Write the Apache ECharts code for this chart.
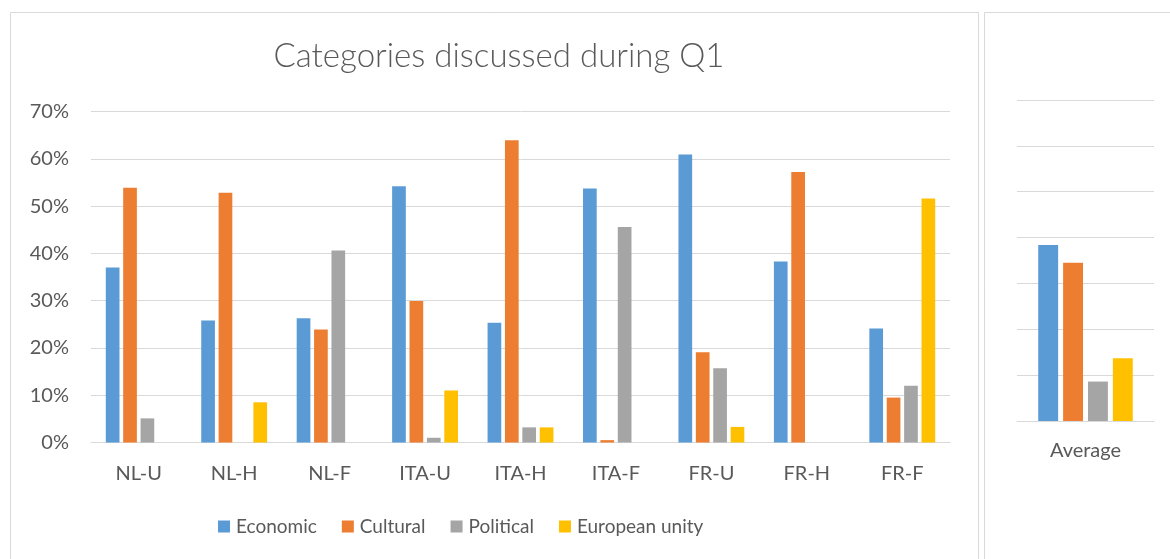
<!DOCTYPE html>
<html>
<head>
<meta charset="utf-8">
<style>
  html, body { margin: 0; padding: 0; background: #ffffff; }
  #chart { width: 1170px; height: 559px; }
</style>
<script src="https://cdn.jsdelivr.net/npm/echarts@6/dist/echarts.min.js"></script>
</head>
<body>
<div id="chart"></div>
<script>
// Share of each discussion category per group (percent)
const categories = ['NL-U', 'NL-H', 'NL-F', 'ITA-U', 'ITA-H', 'ITA-F', 'FR-U', 'FR-H', 'FR-F'];
const seriesNames = ['Economic', 'Cultural', 'Political', 'European unity'];
const economic = [37.0, 25.8, 26.3, 54.2, 25.3, 53.7, 60.9, 38.3, 24.1];
const cultural = [53.9, 52.8, 23.9, 29.9, 63.9, 0.5, 19.1, 57.2, 9.5];
const political = [5.1, 0, 40.6, 1.0, 3.2, 45.6, 15.7, 0, 12.0];
const europeanUnity = [0, 8.5, 0, 11.0, 3.2, 0, 3.3, 0, 51.6];

// Side panel: one bar per category
const averageLabel = ['Average'];
const averages = [38.4, 34.5, 8.6, 13.7];

const colors = ['#5B9BD5', '#ED7D31', '#A5A5A5', '#FFC000'];
const textColor = '#595959';
const gridColor = '#D9D9D9';
const FONT = 'Lato';

const mainValues = [economic, cultural, political, europeanUnity];

const series = [];
mainValues.forEach((vals, i) => {
  series.push({
    name: seriesNames[i],
    type: 'bar',
    xAxisIndex: 0,
    yAxisIndex: 0,
    data: vals,
    itemStyle: { color: colors[i] },
    barGap: '27%',
    barCategoryGap: '31%'
  });
});
averages.forEach((v, i) => {
  series.push({
    name: seriesNames[i],
    type: 'bar',
    xAxisIndex: 1,
    yAxisIndex: 1,
    data: [v],
    itemStyle: { color: colors[i] },
    barGap: '25%',
    barCategoryGap: '31%'
  });
});

const chart = echarts.init(document.getElementById('chart'), null, { renderer: 'canvas' });
chart.setOption({
  animation: false,
  backgroundColor: '#ffffff',
  textStyle: { fontFamily: FONT, color: textColor },
  graphic: [
    { type: 'rect', shape: { x: 10.5, y: 12.5, width: 968, height: 560 },
      style: { fill: 'none', stroke: gridColor, lineWidth: 1 } },
    { type: 'rect', shape: { x: 984.5, y: 12.5, width: 200, height: 560 },
      style: { fill: 'none', stroke: gridColor, lineWidth: 1 } }
  ],
  title: {
    text: 'Categories discussed during Q1',
    left: 494,
    textAlign: 'center',
    top: 35,
    textStyle: { fontFamily: FONT, fontWeight: 300, fontSize: 33, color: textColor }
  },
  legend: {
    data: seriesNames,
    left: 213,
    top: 512,
    itemWidth: 12,
    itemHeight: 12,
    itemGap: 25,
    icon: 'rect',
    textStyle: { fontFamily: FONT, fontSize: 19, color: textColor, padding: [0, 0, 0, 1] }
  },
  grid: [
    { left: 91, right: 220, top: 111.5, bottom: 116.5 },
    { left: 1017, right: 16, top: 100, bottom: 138 }
  ],
  xAxis: [
    {
      type: 'category', gridIndex: 0, data: categories,
      axisLine: { lineStyle: { color: gridColor, width: 1 } },
      axisTick: { show: false },
      axisLabel: { fontFamily: FONT, fontSize: 20, color: textColor, margin: 21 }
    },
    {
      type: 'category', gridIndex: 1, data: averageLabel,
      axisLine: { lineStyle: { color: gridColor, width: 1 } },
      axisTick: { show: false },
      axisLabel: { fontFamily: FONT, fontSize: 20, color: textColor, margin: 20 }
    }
  ],
  yAxis: [
    {
      type: 'value', gridIndex: 0, min: 0, max: 70, interval: 10,
      axisLine: { show: false }, axisTick: { show: false },
      splitLine: { lineStyle: { color: gridColor, width: 1 } },
      axisLabel: { formatter: '{value}%', fontFamily: FONT, fontSize: 20, color: textColor, margin: 22 }
    },
    {
      type: 'value', gridIndex: 1, min: 0, max: 70, interval: 10,
      axisLine: { show: false }, axisTick: { show: false },
      splitLine: { lineStyle: { color: gridColor, width: 1 } },
      axisLabel: { show: false }
    }
  ],
  series: series
});
</script>
</body>
</html>
